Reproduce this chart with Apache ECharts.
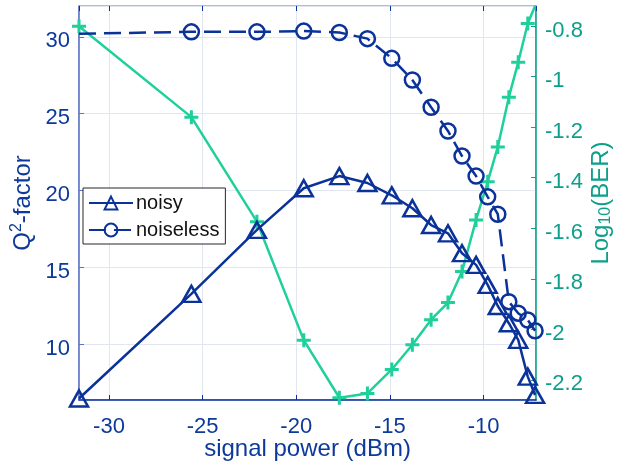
<!DOCTYPE html>
<html>
<head>
<meta charset="utf-8">
<script src="https://cdn.jsdelivr.net/npm/echarts@6/dist/echarts.min.js"></script>
<style>html,body{margin:0;padding:0;background:#fff;}#c{width:620px;height:462px;}</style>
</head>
<body>
<div id="c"></div>
<script>
// signal power (dBm)
const power = [-31.6, -25.6, -22.1, -19.6, -17.7, -16.2, -14.9, -13.8, -12.8, -11.9, -11.15, -10.4, -9.78, -9.24, -8.65, -8.15, -7.64, -7.25];
// Q^2-factor, noisy
const noisyQ = [6.5, 13.3, 17.45, 20.16, 20.95, 20.5, 19.7, 18.86, 17.77, 17.23, 15.94, 15.18, 13.88, 12.51, 11.39, 10.31, 7.92, 6.73];
// Q^2-factor, noiseless
const noiselessQ = [30.2, 30.32, 30.32, 30.37, 30.28, 29.88, 28.6, 27.19, 25.42, 23.88, 22.25, 20.95, 19.6, 18.47, 12.79, 12.04, 11.6, 10.9];
// log10(BER)
const logBER = [-0.8, -1.16, -1.574, -2.043, -2.271, -2.254, -2.159, -2.061, -1.962, -1.894, -1.771, -1.567, -1.416, -1.278, -1.081, -0.943, -0.789, -0.72];

const BLUE = '#0A3299';
const BLUE_TXT = '#0D3A9A';
const GREEN = '#1FD09A';
const TEAL = '#0E9F8A';
const FONT = 'Liberation Sans, Arial, Helvetica, sans-serif';

function pairs(xs, ys, hideFirst, hideLast) {
  return xs.map((x, i) => {
    const d = { value: [x, ys[i]] };
    if ((hideFirst && i === 0) || (hideLast && i === xs.length - 1)) d.symbol = 'none';
    return d;
  });
}
function shiftedLabel(color) {
  return {
    fontSize: 22, color: color, margin: 9, showMinLabel: false, showMaxLabel: false, fontFamily: FONT,
    formatter: v => '{v|' + (Math.round(v * 100) / 100) + '}',
    rich: { v: { fontSize: 22, color: color, fontFamily: FONT, padding: [9, 0, 0, 0] } }
  };
}

const chart = echarts.init(document.getElementById('c'), null, { renderer: 'canvas' });
chart.setOption({
  animation: false,
  backgroundColor: '#fff',
  textStyle: { fontFamily: FONT },
  grid: { left: 79, right: 84, top: 6, bottom: 62, containLabel: false, outerBoundsMode: 'none', show: true, borderColor: '#5C74C2', borderWidth: 1, backgroundColor: 'transparent' },
  legend: {
    data: ['noisy', 'noiseless'],
    orient: 'vertical', left: 83, top: 188,
    padding: [5, 6, 4, 5], itemGap: 7,
    itemWidth: 44, itemHeight: 16,
    backgroundColor: '#fff', borderColor: '#262626', borderWidth: 1, borderRadius: 0,
    textStyle: { fontSize: 20, color: '#111', fontFamily: FONT, padding: [0, 0, 0, -2] }
  },
  xAxis: [{
    type: 'value', min: -31.6, max: -7.2, splitNumber: 5,
    name: 'signal power (dBm)', nameLocation: 'middle', nameGap: 37, nameMoveOverlap: false,
    nameTextStyle: { fontSize: 24, color: BLUE_TXT, fontFamily: FONT },
    axisLine: { show: true, lineStyle: { color: BLUE, width: 1.5 } },
    axisTick: { show: true, inside: true, length: 5, lineStyle: { color: BLUE } },
    axisLabel: { fontSize: 22, color: BLUE_TXT, margin: 16, showMinLabel: false, showMaxLabel: false, fontFamily: FONT },
    splitLine: { show: true, lineStyle: { color: '#E2E6F0', width: 1 } }
  }, {
    type: 'value', position: 'top', min: -31.6, max: -7.2, splitNumber: 5,
    axisLine: { show: false },
    axisTick: { show: true, inside: true, length: 5, lineStyle: { color: BLUE } },
    axisLabel: { show: false }, splitLine: { show: false }
  }],
  yAxis: [{
    type: 'value', min: 6.4, max: 32, splitNumber: 5, position: 'left',
    name: '{a|Q}{s|2}{a|-factor}', nameLocation: 'middle', nameGap: 42, nameRotate: 90, nameMoveOverlap: false,
    nameTextStyle: { color: BLUE_TXT, rich: { a: { fontSize: 24, color: BLUE_TXT, fontFamily: FONT }, s: { fontSize: 16, color: BLUE_TXT, verticalAlign: 'top', padding: [0, 0, 12, 0], fontFamily: FONT } } },
    axisLine: { show: true, lineStyle: { color: '#5C74C2', width: 1.5 } },
    axisTick: { show: true, inside: true, length: 5, lineStyle: { color: '#5C74C2' } },
    axisLabel: shiftedLabel(BLUE_TXT),
    splitLine: { show: true, lineStyle: { color: '#E2E6F0', width: 1 } }
  }, {
    type: 'value', min: -2.28, max: -0.72, splitNumber: 8, position: 'right',
    name: '{a|Log}{s|10}{a|(BER)}', nameLocation: 'middle', nameGap: 52, nameRotate: 90, nameMoveOverlap: false,
    nameTextStyle: { color: TEAL, rich: { a: { fontSize: 24, color: TEAL, fontFamily: FONT }, s: { fontSize: 16, color: TEAL, verticalAlign: 'bottom', padding: [10, 0, 0, 0], fontFamily: FONT } } },
    axisLine: { show: true, lineStyle: { color: TEAL, width: 1.5 } },
    axisTick: { show: true, inside: true, length: 5, lineStyle: { color: TEAL } },
    axisLabel: shiftedLabel(TEAL),
    splitLine: { show: false }
  }],
  series: [{
    name: 'noisy', type: 'line', xAxisIndex: 0, yAxisIndex: 0,
    data: pairs(power, noisyQ, false, false),
    symbol: 'triangle', symbolSize: [18, 16],
    lineStyle: { color: BLUE, width: 2.5 },
    itemStyle: { color: 'rgba(255,255,255,0)', borderColor: BLUE, borderWidth: 2.5 },
    z: 3
  }, {
    name: 'noiseless', type: 'line', xAxisIndex: 0, yAxisIndex: 0,
    data: pairs(power, noiselessQ, true, false),
    symbol: 'circle', symbolSize: 15,
    lineStyle: { color: BLUE, width: 2.5, type: [17, 8] },
    itemStyle: { color: 'rgba(255,255,255,0)', borderColor: BLUE, borderWidth: 2.5 },
    z: 3
  }, {
    name: 'BER', type: 'line', xAxisIndex: 0, yAxisIndex: 1,
    data: pairs(power, logBER, false, true),
    symbol: 'path://M0,-1 L0,1 M-1,0 L1,0', symbolSize: 14,
    lineStyle: { color: GREEN, width: 2.5 },
    itemStyle: { color: GREEN, borderColor: GREEN, borderWidth: 3 },
    z: 2
  }]
});
</script>
</body>
</html>
